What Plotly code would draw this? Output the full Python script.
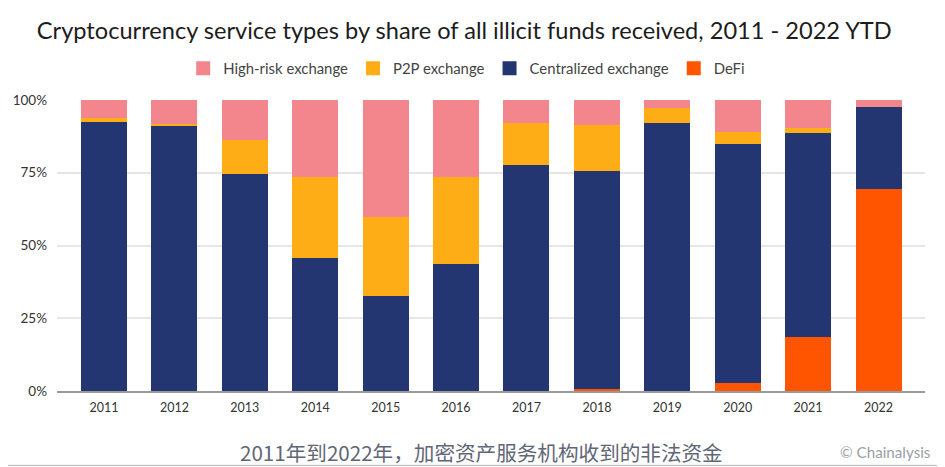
import plotly.graph_objects as go

years = ['2011', '2012', '2013', '2014', '2015', '2016', '2017', '2018', '2019', '2020', '2021', '2022']

# share of illicit funds, % of total per year
defi = [None, None, None, None, None, None, None, 0.9, None, 3.2, 19, 69.7]
centralized = [92.8, 91.3, 74.8, 46.1, 33.1, 44.1, 78.1, 75, 92.5, 82, 70, 28.2]
p2p = [1.5, 0.7, 11.8, 27.9, 27, 29.8, 14.2, 16, 5.2, 4, 1.6, None]
high_risk = [5.7, 8, 13.4, 26, 39.9, 26.1, 7.7, 8.1, 2.3, 10.8, 9.4, 2.1]

tick_vals = [0, 25, 50, 75, 100]
tick_text = ['0%', '25%', '50%', '75%', '100%']


def bar(values, name, color):
    # same-colour outline, it also makes the legend squares bigger
    return go.Bar(x=years, y=values, name=name,
                  marker=dict(color=color, line=dict(color=color, width=2)))


data = [
    bar(defi, 'DeFi', '#FF5500'),
    bar(centralized, 'Centralized exchange', '#243671'),
    bar(p2p, 'P2P exchange', '#FFAD16'),
    bar(high_risk, 'High-risk exchange', '#F3868D'),
]

# the page has an 8px body margin, so the figure is 8px smaller than the window
layout = go.Layout(
    barmode='stack',
    bargap=0.375,
    width=937,
    height=459,
    margin=dict(l=49, r=20, t=91.5, b=76),
    paper_bgcolor='white',
    plot_bgcolor='white',
    font=dict(family='Lato', color='#333333', size=12.5),
    title=dict(
        text='Cryptocurrency service types by share of all illicit funds received, 2011 - 2022 YTD',
        x=0.487, xanchor='center', y=0.95, yanchor='middle',
        font=dict(family='Lato', size=23.6, color='#1c1c1c'),
    ),
    legend=dict(
        orientation='h', traceorder='reversed',
        x=0.472, xanchor='center', y=1.108, yanchor='middle',
        font=dict(size=14.9, color='#444444'),
        itemwidth=30,
    ),
    xaxis=dict(
        type='category', range=[-0.668, 11.66], automargin=False,
        showgrid=False, showline=True, linecolor='#9a9a9a', linewidth=1.5,
        ticks='', tickfont=dict(size=12.5), ticklabelstandoff=4,
    ),
    yaxis=dict(
        range=[0, 100], tickvals=tick_vals, ticktext=tick_text, automargin=False,
        gridcolor='#e6e6e6', gridwidth=1.5, zeroline=False, ticks='',
        tickfont=dict(size=13.5), ticklabelstandoff=9,
    ),
    shapes=[
        dict(type='line', xref='paper', yref='paper', x0=-0.0565, x1=1.023, y0=-0.2556, y1=-0.2556,
             line=dict(color='#b4b4b4', width=1)),
    ],
    annotations=[
        dict(text='2011年到2022年，加密资产服务机构收到的非法资金', xref='paper', yref='paper',
             x=0.4885, y=-0.209, xanchor='center', yanchor='middle', showarrow=False,
             font=dict(family='Noto Sans CJK SC', size=20.6, color='#5f6675')),
        dict(text='© Chainalysis', xref='paper', yref='paper',
             x=1.008, y=-0.209, xanchor='right', yanchor='middle', showarrow=False,
             font=dict(size=15.2, color='#9aa0a8')),
    ],
)

fig = go.Figure(data=data, layout=layout)
fig.write_html('out.html')
